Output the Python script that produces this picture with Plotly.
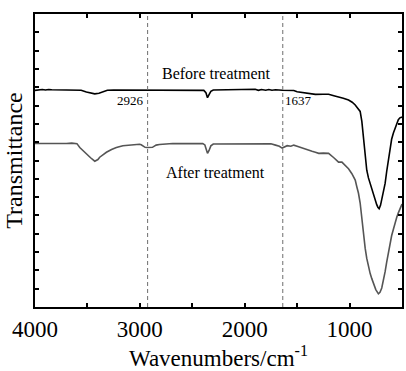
import plotly.graph_objects as go

# ---- data ----
before_wn = [4000, 3960, 3930, 3900, 3870, 3840, 3800, 3760, 3720, 3680, 3620, 3560, 3510, 3470, 3430,
             3390, 3350, 3310, 3250, 3150, 3060, 3040, 3000, 2926, 2850, 2750, 2660, 2630, 2600, 2450,
             2390, 2370, 2355, 2340, 2323, 2300, 2150, 2000, 1943, 1900, 1870, 1840, 1800, 1770, 1740,
             1706, 1643, 1595, 1532, 1500, 1420, 1358, 1326, 1250, 1200, 1150, 1105, 1060, 1010, 975,
             946, 920, 899, 883, 867, 851, 836, 820, 804, 788, 772, 756, 741, 730, 718,
             705, 693, 677, 661, 646, 630, 614, 599, 582, 566, 550, 535, 520, 510, 500]
before_T = [11.83, 11.85, 11.88, 11.85, 11.88, 11.86, 11.86, 11.88, 11.86, 11.87, 11.86, 11.84, 11.74, 11.68, 11.64,
            11.67, 11.75, 11.84, 11.85, 11.85, 11.84, 11.87, 11.84, 11.83, 11.84, 11.84, 11.84, 11.87, 11.84, 11.84,
            11.83, 11.70, 11.43, 11.60, 11.78, 11.85, 11.86, 11.86, 11.86, 11.89, 11.83, 11.88, 11.84, 11.88, 11.84,
            11.86, 11.84, 11.82, 11.82, 11.75, 11.70, 11.66, 11.61, 11.62, 11.62, 11.54, 11.48, 11.40, 11.30, 11.18,
            11.03, 10.86, 10.68, 10.14, 9.25, 8.18, 7.47, 7.05, 6.75, 6.38, 6.04, 5.80, 5.59, 5.45, 5.37,
            5.55, 5.86, 6.25, 6.75, 7.40, 8.00, 8.60, 9.16, 9.50, 9.79, 10.02, 10.23, 10.33, 10.36, 10.37]

after_wn = [4000, 3900, 3850, 3800, 3700, 3650, 3600, 3573, 3540, 3509, 3470, 3430, 3400, 3383, 3350,
            3319, 3270, 3224, 3162, 3100, 3003, 2987, 2950, 2932, 2880, 2845, 2813, 2687, 2500, 2400,
            2380, 2355, 2340, 2323, 2300, 2100, 1900, 1750, 1706, 1670, 1643, 1620, 1595, 1560, 1532,
            1500, 1468, 1421, 1390, 1358, 1326, 1294, 1250, 1200, 1150, 1105, 1073, 1041, 1010, 978,
            946, 931, 915, 899, 883, 867, 851, 836, 820, 804, 788, 772, 750, 725, 710,
            693, 677, 661, 646, 630, 614, 599, 582, 566, 550, 535, 520, 504, 500]
after_T = [8.93, 8.92, 8.95, 8.93, 8.93, 8.95, 8.92, 8.71, 8.52, 8.36, 8.15, 7.96, 8.05, 8.18, 8.32,
           8.45, 8.60, 8.71, 8.81, 8.85, 8.89, 8.86, 8.72, 8.71, 8.72, 8.84, 8.87, 8.93, 8.93, 8.92,
           8.85, 8.39, 8.55, 8.80, 8.90, 8.91, 8.91, 8.91, 8.84, 8.78, 8.68, 8.75, 8.81, 8.78, 8.84,
           8.78, 8.71, 8.62, 8.55, 8.50, 8.45, 8.39, 8.40, 8.39, 8.15, 7.91, 7.91, 7.73, 7.55, 7.28,
           6.93, 6.57, 6.21, 5.68, 4.79, 3.89, 3.20, 2.65, 2.20, 1.84, 1.55, 1.31, 0.95, 0.72, 0.80,
           1.04, 1.45, 1.93, 2.45, 3.00, 3.45, 3.89, 4.25, 4.61, 4.90, 5.14, 5.38, 5.59, 5.62]

marker_wn = [2926, 1637]
marker_labels = ["2926", "1637"]

x_tickvals = [4000, 3000, 2000, 1000]
x_ticktext = ["4000", "3000", "2000", "1000"]

FONT = "Liberation Serif, Times New Roman, serif"

fig = go.Figure()
fig.add_trace(go.Scatter(x=before_wn, y=before_T, mode="lines",
                         line=dict(color="#000000", width=1.6), name="Before treatment",
                         showlegend=False))
fig.add_trace(go.Scatter(x=after_wn, y=after_T, mode="lines",
                         line=dict(color="#555555", width=1.6), name="After treatment",
                         showlegend=False))

for wn in marker_wn:
    fig.add_vline(x=wn, line=dict(color="#6e6e6e", width=1, dash="4px,3px"))

# spectrum labels
fig.add_annotation(x=2272, y=12.73, text="Before treatment", showarrow=False,
                   font=dict(family=FONT, size=16, color="#000"))
fig.add_annotation(x=2282, y=7.32, text="After treatment", showarrow=False,
                   font=dict(family=FONT, size=16, color="#000"))
fig.add_annotation(x=marker_wn[0], y=11.25, text=marker_labels[0], showarrow=False,
                   xanchor="right", xshift=-2, font=dict(family=FONT, size=13, color="#000"))
fig.add_annotation(x=marker_wn[1], y=11.25, text=marker_labels[1], showarrow=False,
                   xanchor="left", xshift=0, font=dict(family=FONT, size=13, color="#000"))

fig.update_layout(
    width=406, height=371,
    margin=dict(l=35, r=2, t=14, b=58),
    paper_bgcolor="white", plot_bgcolor="white",
    font=dict(family=FONT, color="#000"),
    xaxis=dict(range=[4000, 500], tickvals=x_tickvals, ticktext=x_ticktext,
               ticks="inside", ticklen=4, tickwidth=1.5, tickcolor="#000",
               minor=dict(dtick=500, tick0=0, ticks="inside", ticklen=4, tickwidth=1.5,
                          tickcolor="#000", showgrid=False),
               showline=True, linecolor="#000", linewidth=2, mirror="ticks",
               showgrid=False, zeroline=False,
               tickfont=dict(family=FONT, size=23, color="#000"),
               title=dict(text="Wavenumbers/cm<sup>-1</sup>", standoff=11,
                          font=dict(family=FONT, size=23, color="#000"))),
    yaxis=dict(range=[0, 16], dtick=1, showticklabels=False,
               ticks="inside", ticklen=4, tickwidth=1.5, tickcolor="#000",
               showline=True, linecolor="#000", linewidth=2, mirror="ticks",
               showgrid=False, zeroline=False,
               title=dict(text="Transmittance", standoff=4,
                          font=dict(family=FONT, size=24, color="#000"))),
)

fig.write_html("out.html")
